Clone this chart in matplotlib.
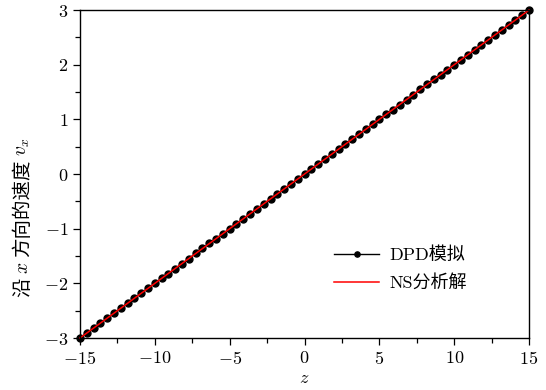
import matplotlib
matplotlib.use("Agg")
import matplotlib.pyplot as plt
from matplotlib.ticker import MultipleLocator

plt.rcParams['mathtext.fontset'] = 'cm'
plt.rcParams['axes.formatter.use_mathtext'] = True
plt.rcParams['font.family'] = ['cmr10', 'Noto Sans CJK SC', 'DejaVu Sans']
plt.rcParams['axes.unicode_minus'] = True

# DPD simulation samples
z_dpd = [-15.00, -14.55, -14.09, -13.64, -13.18, -12.73, -12.27, -11.82, -11.36, -10.91,
         -10.45, -10.00, -9.55, -9.09, -8.64, -8.18, -7.73, -7.27, -6.82, -6.36,
         -5.91, -5.45, -5.00, -4.55, -4.09, -3.64, -3.18, -2.73, -2.27, -1.82,
         -1.36, -0.91, -0.45, 0.00, 0.45, 0.91, 1.36, 1.82, 2.27, 2.73,
         3.18, 3.64, 4.09, 4.55, 5.00, 5.45, 5.91, 6.36, 6.82, 7.27,
         7.73, 8.18, 8.64, 9.09, 9.55, 10.00, 10.45, 10.91, 11.36, 11.82,
         12.27, 12.73, 13.18, 13.64, 14.09, 14.55, 15.00]
v_dpd = [-3.00, -2.91, -2.82, -2.73, -2.64, -2.55, -2.45, -2.36, -2.27, -2.18,
         -2.09, -2.00, -1.91, -1.82, -1.73, -1.64, -1.55, -1.45, -1.36, -1.27,
         -1.18, -1.09, -1.00, -0.91, -0.82, -0.73, -0.64, -0.55, -0.45, -0.36,
         -0.27, -0.18, -0.09, 0.00, 0.09, 0.18, 0.27, 0.36, 0.45, 0.55,
         0.64, 0.73, 0.82, 0.91, 1.00, 1.09, 1.18, 1.27, 1.36, 1.45,
         1.55, 1.64, 1.73, 1.82, 1.91, 2.00, 2.09, 2.18, 2.27, 2.36,
         2.45, 2.55, 2.64, 2.73, 2.82, 2.91, 3.00]

# NS analytic solution
z_ns = [-15, 15]
v_ns = [-3, 3]

# y label pieces: (text, is_math)
ylabel_parts = [('沿', False), ('$x$', True), ('方向的速度', False), ('$v_x$', True)]

fig = plt.figure(figsize=(5.46, 3.9), dpi=100)
ax = fig.add_axes([0.1465, 0.1333, 0.8225, 0.841])

ax.plot(z_dpd, v_dpd, '-o', color='black', lw=1, markersize=5, label='DPD模拟', clip_on=False)
ax.plot(z_ns, v_ns, '-', color='red', lw=1.1, label='NS分析解', clip_on=False)

ax.set_xlim(-15, 15)
ax.set_ylim(-3, 3)
ax.xaxis.set_major_locator(MultipleLocator(5))
ax.xaxis.set_minor_locator(MultipleLocator(2.5))
ax.yaxis.set_major_locator(MultipleLocator(1))
ax.yaxis.set_minor_locator(MultipleLocator(0.5))
ax.tick_params(which='both', direction='out', labelsize=13, width=0.9)
ax.tick_params(which='major', length=5)
ax.tick_params(which='minor', length=3.5)
for s in ax.spines.values():
    s.set_linewidth(1.0)

ax.set_xlabel('$z$', fontsize=13, labelpad=3)

ax.legend(loc='center left', bbox_to_anchor=(334 / 546, 1 - 269 / 390),
          bbox_transform=fig.transFigure, frameon=False, borderpad=0, borderaxespad=0,
          fontsize=13, handlelength=2.5, handletextpad=0.55, labelspacing=0.6,
          markerscale=0.75)

# y label built from pieces so the CJK and math parts both render
fig.canvas.draw()
renderer = fig.canvas.get_renderer()
W, H = fig.bbox.width, fig.bbox.height
xc = 23 / W
gap = 4
texts = []
for s, is_math in ylabel_parts:
    t = fig.text(xc, 0, s, rotation=90, fontsize=14, ha='center', va='bottom',
                 family=['Noto Sans CJK SC'] if not is_math else None)
    texts.append(t)
heights = [t.get_window_extent(renderer).height for t in texts]
y = H - 297
for t, h in zip(texts, heights):
    t.set_position((xc, y / H))
    y += h + gap

fig.savefig('out.png', dpi=100)
